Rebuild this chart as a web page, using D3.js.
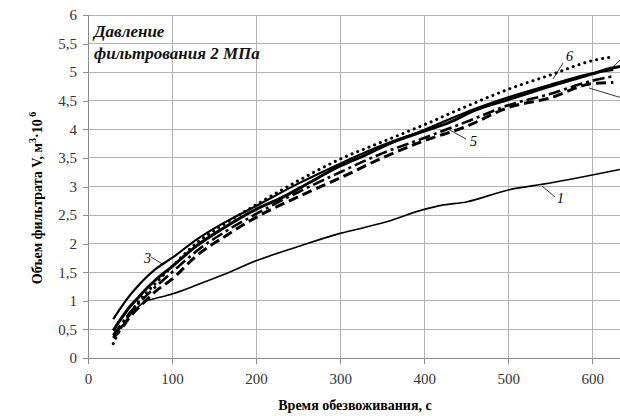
<!DOCTYPE html>
<html><head><meta charset="utf-8">
<script src="https://cdn.jsdelivr.net/npm/d3@7"></script>
<style>body{margin:0;background:#fff}svg{display:block}
svg text{font-family:"Liberation Serif","DejaVu Serif","Times New Roman",serif !important;}</style>
</head><body><svg id="c" width="620" height="416"></svg>
<script>
const xTicks = [0,100,200,300,400,500,600];
const yTicks = [0,0.5,1,1.5,2,2.5,3,3.5,4,4.5,5,5.5,6];
const yTickLabels = ["0","0,5","1","1,5","2","2,5","3","3,5","4","4,5","5","5,5","6"];

const t1 = [30,40,50,60,70,80,100,130,160,200,250,300,350,400,420,450,500,550,600,633];
const v1 = [0.38,0.55,0.75,0.9,1.0,1.04,1.12,1.28,1.45,1.7,1.95,2.18,2.36,2.6,2.67,2.73,2.94,3.06,3.2,3.3];

const tA = [30,40,50,60,70,80,100,130,160,200,250,300,350,400,450,500,550,600,625];
const v2 = [0.35,0.52,0.72,0.88,1.02,1.16,1.38,1.8,2.1,2.46,2.82,3.15,3.5,3.8,4.05,4.38,4.55,4.8,4.82];
const v3 = [0.68,0.9,1.1,1.27,1.42,1.55,1.75,2.08,2.35,2.66,3.05,3.4,3.72,3.99,4.3,4.56,4.78,4.98,5.04];
const v4 = [0.4,0.6,0.8,0.95,1.1,1.24,1.5,1.88,2.18,2.52,2.9,3.25,3.58,3.85,4.13,4.42,4.62,4.85,4.93];
const v6 = [0.25,0.55,0.78,0.98,1.15,1.3,1.6,2.02,2.32,2.68,3.1,3.48,3.78,4.08,4.4,4.7,4.95,5.2,5.27];

const t5 = [30,40,50,60,70,80,100,130,160,200,230,260,300,330,360,400,430,460,500,530,560,600,620,633];
const v5 = [0.48,0.7,0.9,1.06,1.22,1.36,1.6,1.97,2.26,2.6,2.8,3.04,3.36,3.55,3.76,3.97,4.12,4.33,4.52,4.66,4.8,4.97,5.06,5.1];

const svg = d3.select("#c");
const x = d3.scaleLinear().domain([0,633]).range([88,620]);
const y = d3.scaleLinear().domain([0,6]).range([358,15]);

// grid
svg.append("g").selectAll("line").data(yTicks.slice(1)).join("line")
  .attr("x1",88).attr("x2",620).attr("y1",d=>y(d)).attr("y2",d=>y(d))
  .attr("stroke","#b3b3b3").attr("stroke-width",1).attr("shape-rendering","crispEdges");
svg.append("g").selectAll("line").data(xTicks.slice(1)).join("line")
  .attr("x1",d=>x(d)).attr("x2",d=>x(d)).attr("y1",15).attr("y2",358)
  .attr("stroke","#b3b3b3").attr("stroke-width",1).attr("shape-rendering","crispEdges");

// axes
const yAxis = d3.axisLeft(y).tickValues(yTicks).tickSize(5).tickPadding(6)
  .tickFormat((d,i)=>yTickLabels[i]);
const gy = svg.append("g").attr("transform","translate(88,0)").call(yAxis);
const xAxis = d3.axisBottom(x).tickValues(xTicks).tickSize(6).tickPadding(9);
const gx = svg.append("g").attr("transform","translate(0,358)").call(xAxis);
[gx,gy].forEach(g=>{
  g.attr("font-family",null);
  g.select(".domain").attr("stroke","#8c8c8c").attr("shape-rendering","crispEdges");
  g.selectAll(".tick line").attr("stroke","#8c8c8c").attr("shape-rendering","crispEdges");
  g.selectAll("text").attr("font-size",15).attr("fill","#333");
});
gx.select(".domain").attr("d","M88,0H620");

const line = d3.line().x(d=>x(d[0])).y(d=>y(d[1])).curve(d3.curveMonotoneX);
function draw(ts,vs,w,dash,cap){
  svg.append("path").datum(ts.map((t,i)=>[t,vs[i]]))
    .attr("d",line).attr("fill","none").attr("stroke","#000")
    .attr("stroke-width",w).attr("stroke-dasharray",dash||null)
    .attr("stroke-linecap",cap||"butt").attr("stroke-linejoin","round");
}
draw(t1,v1,1.6);
draw(tA,v2,3,"10,5");
draw(tA,v4,2.6,"12,4,3,4");
draw(tA,v3,2.2);
draw(t5,v5,3);
draw(tA,v6,3,"0.1,6","round");

// labels with leader lines
const lab = [
  {t:"1",lx:557,ly:203,x1:542,y1:186,x2:555,y2:197},
  {t:"5",lx:470,ly:146,x1:448,y1:129,x2:466,y2:139},
  {t:"6",lx:566,ly:61,x1:553,y1:79,x2:563,y2:63},
  {t:"3",lx:144,ly:263,x1:151,y1:257,x2:164,y2:265},
  {t:"",lx:0,ly:0,x1:611,y1:69,x2:622,y2:58},
  {t:"",lx:0,ly:0,x1:589,y1:88,x2:622,y2:98}
];
svg.append("g").selectAll("line").data(lab).join("line")
  .attr("x1",d=>d.x1).attr("y1",d=>d.y1).attr("x2",d=>d.x2).attr("y2",d=>d.y2)
  .attr("stroke","#000").attr("stroke-width",0.8);
svg.append("g").selectAll("text").data(lab.filter(d=>d.t)).join("text")
  .attr("x",d=>d.lx).attr("y",d=>d.ly).text(d=>d.t)
  .attr("font-style","italic").attr("font-size",14);

// title
const tt = svg.append("text").attr("font-weight","bold")
  .attr("font-style","italic").attr("font-size",17).attr("fill","#111");
tt.append("tspan").attr("x",94).attr("y",37).text("Давление");
tt.append("tspan").attr("x",94).attr("y",59).text("фильтрования 2 МПа");

// axis titles
svg.append("text").attr("x",355).attr("y",410).attr("text-anchor","middle")
  .attr("font-weight","bold").attr("font-size",14)
  .text("Время обезвоживания, с");
const yl = svg.append("text").attr("transform","translate(42,198) rotate(-90)")
  .attr("text-anchor","middle").attr("font-weight","bold").attr("font-size",14);
yl.append("tspan").text("Объем фильтрата V, м");
yl.append("tspan").attr("dy",-6).attr("font-size",10).text("3");
yl.append("tspan").attr("dy",6).text("·10");
yl.append("tspan").attr("dy",-6).attr("font-size",10).text(" 6");
</script></body></html>
